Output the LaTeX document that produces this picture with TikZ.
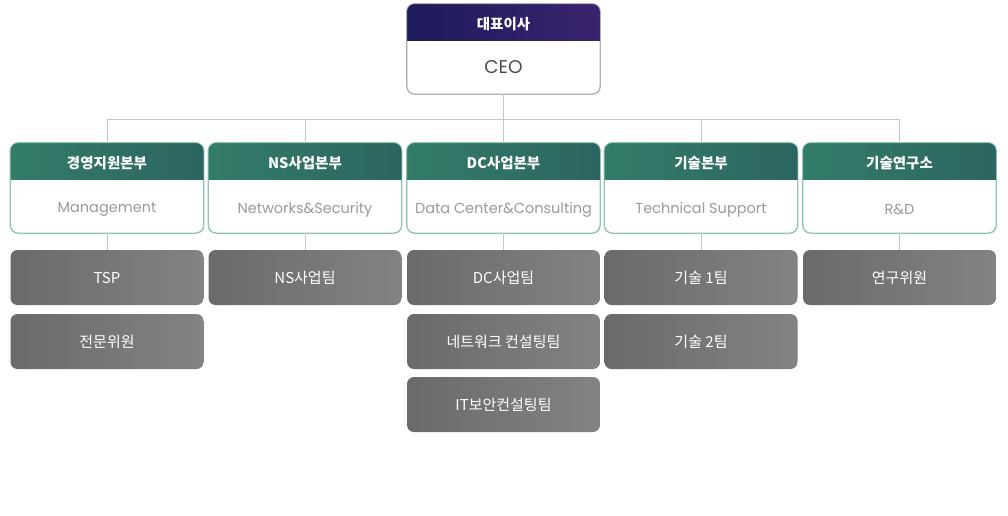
\documentclass[tikz,border=0pt]{standalone}
\usepackage{fontspec}
\usepackage{tikz}
\usetikzlibrary{positioning}
\setmainfont{Poppins}
\newfontfamily\kr{Noto Sans CJK KR}
\definecolor{ceonavy}{HTML}{1D1B5B}
\definecolor{ceopurple}{HTML}{3A2370}
\definecolor{divgreen}{HTML}{337C69}
\definecolor{divteal}{HTML}{2C6560}
\definecolor{divline}{HTML}{8FC3B4}
\definecolor{teamdark}{HTML}{6A6A6A}
\definecolor{teamlight}{HTML}{838383}
\definecolor{linegray}{HTML}{C6C6C6}
\definecolor{subgray}{HTML}{9A9A9A}
\tikzset {
  x=1pt, y=-1pt,
  % white box with a coloured band on top
  ceobox/.style = {draw=gray!60, fill=white, rounded corners=8pt, line width=0.8pt,
    minimum width=193pt, minimum height=90pt, inner sep=0pt},
  divbox/.style = {draw=divline, fill=white, rounded corners=8pt, line width=0.8pt,
    minimum width=193pt, minimum height=90pt, inner sep=0pt},
  % grey team boxes
  team/.style = {left color=teamdark, right color=teamlight, rounded corners=7pt,
    minimum width=193pt, minimum height=55pt, inner sep=0pt,
    text=white, font=\kr\fontsize{15}{17}\selectfont},
  headtext/.style = {text=white, font=\kr\bfseries\fontsize{14.5}{16}\selectfont},
  subtext/.style = {text=subgray, font=\fontsize{14.5}{16}\selectfont},
  conn/.style = {linegray, line width=0.8pt},
}

\begin{document}
\begin{tikzpicture}
        \useasboundingbox (0,0) rectangle (1008,515);

        % CEO
        \node[ceobox] (ceo) at (503.5,49) {};
        \begin{scope}
          \clip[rounded corners=8pt] (ceo.south west) rectangle (ceo.north east);
          \shade[left color=ceonavy, right color=ceopurple] (ceo.north west) rectangle ([yshift=-37pt]ceo.north east);
        \end{scope}
        \draw[draw=gray!60, rounded corners=8pt, line width=0.8pt] (ceo.south west) rectangle (ceo.north east);
        \node[headtext] (ceoh) at ([yshift=-20pt]ceo.north) {대표이사};
        \node[text=black!70, font=\fontsize{18.5}{20}\selectfont] (ceos) at ([yshift=-63pt]ceo.north) {CEO};

        % divisions
        \foreach \i/\x/\kor/\eng in {1/107/경영지원본부/Management,
                                     2/305/NS사업본부/Networks\&Security,
                                     3/503.5/DC사업본부/Data Center\&Consulting,
                                     4/701/기술본부/Technical Support,
                                     5/899.5/기술연구소/R\&D} {
          \node[divbox] (d\i) at (\x,188) {};
          \begin{scope}
            \clip[rounded corners=8pt] (d\i.south west) rectangle (d\i.north east);
            \shade[left color=divgreen, right color=divteal] (d\i.north west) rectangle ([yshift=-37pt]d\i.north east);
          \end{scope}
          \draw[draw=divline, rounded corners=8pt, line width=0.8pt] (d\i.south west) rectangle (d\i.north east);
          \node[headtext] (d\i h) at ([yshift=-20pt]d\i.north) {\kor};
          \node[subtext] (d\i s) at ([yshift=-67pt]d\i.north) {\eng};
        }

        % teams
        \node[team] (t1a) at (107,277.5) {TSP};
        \node[team] (t1b) at (107,341.5) {전문위원};
        \node[team] (t2a) at (305,277.5) {NS사업팀};
        \node[team] (t3a) at (503.5,277.5) {DC사업팀};
        \node[team] (t3b) at (503.5,341.5) {네트워크 컨설팅팀};
        \node[team] (t3c) at (503.5,404.5) {IT보안컨설팅팀};
        \node[team] (t4a) at (701,277.5) {기술 1팀};
        \node[team] (t4b) at (701,341.5) {기술 2팀};
        \node[team] (t5a) at (899.5,277.5) {연구위원};

        % connectors
        \coordinate (bus) at (503.5,119);
        \draw [conn] (ceo.south) -- (bus);
        \foreach \i in {1,...,5}
          \draw [conn] (d\i.north) |- (bus);
        \draw [conn] (d1.south) -- (t1a.north);
        \draw [conn] (d2.south) -- (t2a.north);
        \draw [conn] (d3.south) -- (t3a.north);
        \draw [conn] (d4.south) -- (t4a.north);
        \draw [conn] (d5.south) -- (t5a.north);
      \end{tikzpicture}
\end{document}
